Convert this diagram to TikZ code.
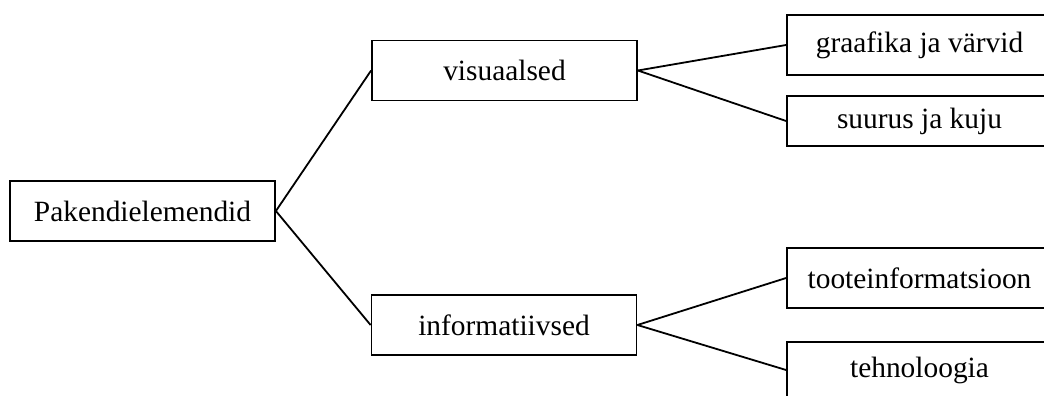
\documentclass[tikz,border=0pt]{standalone}
\usepackage{fontspec}
\setmainfont{Liberation Serif}
\begin{document}
\begin{tikzpicture}[x=0.5pt,y=-0.5pt]
\tikzset{elem/.style={draw,line width=0.9pt,
                      minimum width=132.5pt,
                      minimum height=30pt,
                      inner sep=0pt,
                      align=center,
                      font=\fontsize{14.7}{17}\selectfont},
         link/.style={line width=0.9pt}
}
\useasboundingbox (0,0) rectangle (1044,396);
\clip (0,0) rectangle (1044,396);
\node[elem] (pak) at (142.5,211) {Pakendielemendid};
\node[elem] (vis) at (504.5,70.5) {visuaalsed};
\node[elem] (inf) at (504,325)   {informatiivsed};
\node[elem] (gra) at (919.5,45)  {graafika ja värvid};
\node[elem,minimum height=25pt] (suu) at (919.5,121) {suurus ja kuju};
\node[elem] (too) at (919.5,278) {tooteinformatsioon};
\node[elem,minimum height=28pt] (teh) at (919.5,370) {tehnoloogia};
\draw[link] (pak.east) -- (vis.west);
\draw[link] (pak.east) -- (inf.west);
\draw[link] (vis.east) -- (gra.west);
\draw[link] (vis.east) -- (suu.west);
\draw[link] (inf.east) -- (too.west);
\draw[link] (inf.east) -- (teh.west);
\end{tikzpicture}
\end{document}
